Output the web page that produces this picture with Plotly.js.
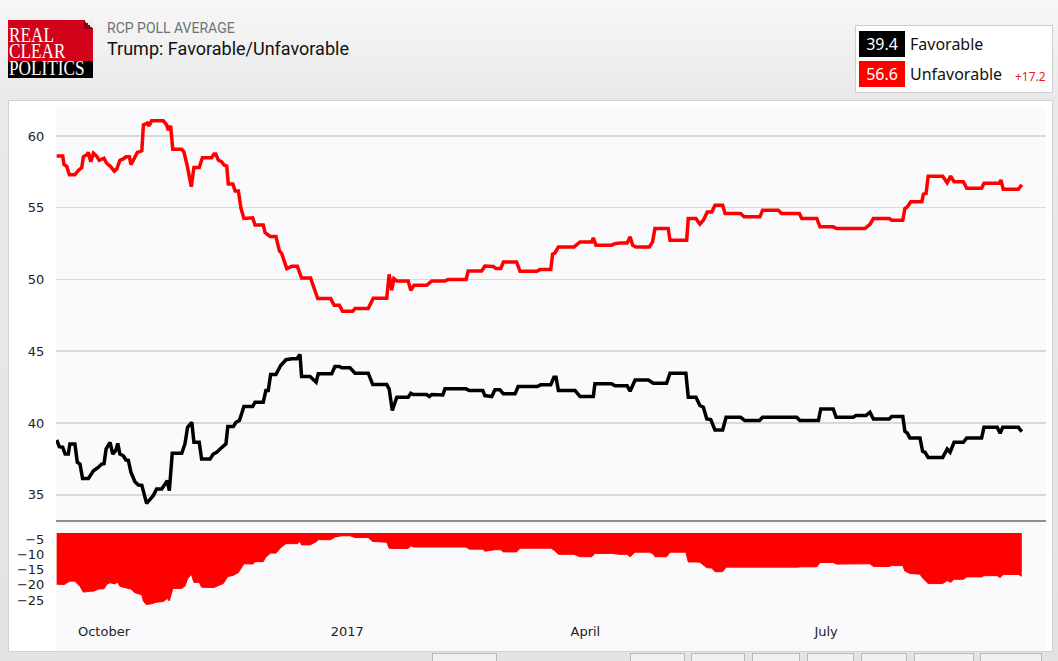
<!DOCTYPE html>
<html>
<head>
<meta charset="utf-8">
<script src="https://cdn.plot.ly/plotly-3.0.1.min.js"></script>
<style>
html,body{margin:0;padding:0;}
body{width:1058px;height:661px;overflow:hidden;position:relative;
  background:linear-gradient(to bottom,#f7f7f7 0px,#e9e9e9 100px,#e3e3e3 661px);}
.abs{position:absolute;white-space:nowrap;line-height:1;}
#logoRed{left:8px;top:20px;width:85px;height:41px;background:#d3021b;}
#logoBlack{left:8px;top:61px;width:85px;height:17px;background:#000;}
#logoFold{left:84px;top:20px;width:9px;height:9px;background:linear-gradient(to bottom left,#ececec 50%,#8e0012 50%);}
#logoText{left:9px;top:26.6px;font-family:"Liberation Serif","DejaVu Serif",serif;font-size:20px;line-height:16.6px;white-space:pre;color:#fff;transform:scaleX(0.86);transform-origin:0 0;}
#sub{left:107px;top:21px;font-family:Roboto,sans-serif;font-size:14px;color:#6e7277;}
#ttl{left:107px;top:39.5px;font-family:Roboto,sans-serif;font-size:18px;color:#111;}
#legend{left:855px;top:25px;width:198px;height:68px;background:#fff;border:1px solid #cfcfcf;box-sizing:border-box;}
.lbox{left:859px;width:46px;height:26px;}
.lnum{left:859px;width:46px;text-align:center;font-family:"Noto Sans",sans-serif;font-size:16px;color:#fff;}
.lname{left:910px;font-family:"Noto Sans",sans-serif;font-size:16px;color:#111;}
#spreadTxt{left:1015px;top:71px;font-family:"Noto Sans",sans-serif;font-size:12px;color:#f0141e;}
#panel{left:8px;top:100px;width:1045px;height:552px;background:#fff;border:1px solid #d2d2d2;box-sizing:border-box;}
#chart{left:9px;top:101px;width:1043px;height:550px;}
#bottomStrip{left:0;top:651px;width:1058px;height:10px;background:#e3e3e3;}
.btn{top:653px;height:12px;background:#f1f1f1;border:1px solid #b9b9b9;box-sizing:border-box;}
</style>
</head>
<body>
<div class="abs" id="logoRed"></div>
<div class="abs" id="logoBlack"></div>
<div class="abs" id="logoFold"></div>
<div class="abs" id="logoText">REAL
CLEAR
POLITICS</div>
<div class="abs" id="sub">RCP POLL AVERAGE</div>
<div class="abs" id="ttl">Trump: Favorable/Unfavorable</div>

<div class="abs" id="legend"></div>
<div class="abs lbox" style="top:31px;background:#000"></div>
<div class="abs lbox" style="top:61px;background:#ff0000"></div>
<div class="abs lnum" id="favNum" style="top:35.8px"></div>
<div class="abs lnum" id="unfavNum" style="top:65.8px"></div>
<div class="abs lname" id="favName" style="top:35.8px"></div>
<div class="abs lname" id="unfavName" style="top:65.8px"></div>
<div class="abs" id="spreadTxt"></div>

<div class="abs" id="bottomStrip"></div>
<div class="abs" id="panel"></div>
<div class="abs btn" style="left:432px;width:65px"></div>
<div class="abs btn" style="left:630px;width:55px"></div>
<div class="abs btn" style="left:691px;width:54px"></div>
<div class="abs btn" style="left:752px;width:48px"></div>
<div class="abs btn" style="left:807px;width:47px"></div>
<div class="abs btn" style="left:861px;width:46px"></div>
<div class="abs btn" style="left:914px;width:60px"></div>
<div class="abs btn" style="left:980px;width:62px"></div>
<div class="abs" id="chart"></div>

<script>
// Series names
const seriesNames = ['Favorable', 'Unfavorable'];

// x values: days after 2016-10-01 (RCP poll average, Sep 2016 - Sep 2017)
const favDay = [
  -17.9,-16.9,-15.6,-14.7,-13.5,-12.9,-11.0,-10.1,-9.1,-8.1,
  -5.9,-4.0,-2.2,-0.9,0,0.8,2.3,3.3,4.4,5.2,
  6.0,7.3,8.3,9.2,10.2,11.7,13.0,14.3,16.1,17.4,
  18.6,19.9,21.8,23.1,23.9,24.7,25.8,29.4,30.6,31.6,
  33.2,34.0,36.0,36.9,40.1,41.3,42.6,43.9,45.1,46.1,
  46.8,48.9,49.9,51.2,52.9,56.2,57.1,60.2,61.2,62.1,
  63.0,65.0,66.8,68.8,71.0,72.9,74.1,74.7,77.9,80.2,
  81.0,86.1,87.3,89.0,89.9,93.0,94.9,99.9,101.6,106.9,
  107.8,109.0,110.7,115.0,116.0,116.9,122.0,123.0,123.9,128.1,
  128.9,136.9,138.1,143.2,144.0,146.6,147.8,149.7,151.0,155.4,
  156.6,163.8,165.1,168.9,170.1,170.9,171.8,178.1,180.0,185.0,
  185.6,191.9,193.2,197.8,198.9,200.8,205.8,207.7,212.7,214.0,
  220.0,220.9,223.8,225.3,226.6,227.9,229.4,231.0,233.9,235.2,
  240.7,242.3,247.8,249.0,261.9,263.1,270.1,271.0,275.7,276.8,
  283.3,284.3,288.1,289.6,290.9,296.9,297.8,302.0,302.8,303.7,
  304.7,308.5,309.5,310.4,311.6,317.1,318.8,319.9,321.4,324.9,
  326.2,331.8,332.7,337.7,338.8,339.8,345.7,347.0
];
const favValue = [
  38.82,38.35,38.3,37.84,37.84,38.54,38.54,37.26,37.14,36.14,
  36.14,36.67,36.9,37.14,37.16,38.19,38.65,37.84,38.07,38.58,
  37.84,37.72,37.42,37.4,36.56,35.91,35.68,35.66,34.4,34.7,
  34.93,35.4,35.4,35.75,35.98,35.28,37.89,37.89,38.54,39.7,
  40.05,38.65,38.65,37.49,37.49,37.84,37.96,38.19,38.42,38.54,
  39.75,39.75,40.05,40.17,41.15,41.15,41.45,41.45,42.26,42.26,
  43.38,43.38,44.01,44.41,44.47,44.47,44.78,43.24,43.24,42.84,
  43.43,43.43,43.94,43.94,43.85,43.85,43.47,43.47,42.68,42.68,
  42.38,40.87,41.8,41.8,42.07,41.98,41.98,41.84,41.98,41.95,
  42.38,42.38,42.26,42.26,41.91,41.84,42.31,42.31,42.03,42.03,
  42.54,42.54,42.66,42.66,43.19,43.19,42.26,42.26,41.84,41.84,
  42.73,42.73,42.59,42.59,42.21,43.0,43.0,42.77,42.77,43.47,
  43.47,41.8,41.8,41.22,41.1,40.28,40.24,39.52,39.52,40.4,
  40.4,40.17,40.17,40.4,40.4,40.17,40.17,40.98,40.98,40.4,
  40.4,40.52,40.52,40.75,40.28,40.28,40.45,40.45,39.42,39.3,
  38.96,38.96,38.03,37.96,37.6,37.6,38.19,37.96,38.65,38.65,
  38.96,38.96,39.7,39.7,39.28,39.7,39.7,39.4
];

const unfavDay = [
  -17.9,-15.6,-15.1,-14.1,-13.1,-11.0,-9.7,-8.4,-7.8,-6.5,
  -5.9,-5.0,-4.0,-2.8,-1.8,0,1.0,2.3,3.9,4.8,
  6.0,7.3,8.3,9.6,10.2,11.7,12.6,14.3,14.9,16.4,
  17.0,18.0,22.4,23.7,24.3,25.2,26.0,29.4,30.2,31.5,
  33.0,34.0,36.0,37.2,40.7,41.6,42.3,43.2,44.5,45.4,
  46.4,47.0,48.7,49.6,50.8,51.8,52.9,56.2,57.1,60.2,
  60.9,62.8,65.0,66.3,67.2,69.1,71.0,73.1,74.7,78.1,
  79.1,80.8,85.7,87.0,89.0,90.2,94.0,94.9,99.9,101.8,
  106.9,107.8,108.8,109.6,110.7,115.0,116.0,117.2,122.0,123.9,
  128.9,130.2,136.9,137.7,142.8,144.0,147.2,148.2,150.0,151.0,
  156.0,157.3,163.6,164.8,168.9,169.6,170.5,171.8,177.7,180.0,
  184.4,185.0,186.0,191.9,193.2,195.1,197.8,198.9,199.9,201.1,
  206.2,207.4,208.3,213.3,214.0,220.3,220.9,223.8,225.3,226.6,
  228.1,229.8,231.0,233.9,234.8,240.7,242.0,248.0,249.0,254.9,
  256.2,262.9,263.8,269.5,270.7,275.7,277.0,287.7,289.6,290.9,
  296.9,297.8,302.0,302.8,303.7,305.0,309.2,309.8,310.8,311.6,
  317.1,318.8,320.1,321.4,324.9,326.2,331.8,332.7,338.5,339.1,
  340.0,345.7,347.0
];
const unfavValue = [
  58.6,58.6,58.0,57.9,57.3,57.3,57.6,57.8,58.55,58.7,
  58.85,58.2,58.8,58.6,58.3,58.45,58.1,57.9,57.55,57.7,
  58.3,58.4,58.55,58.55,58.0,58.55,58.85,58.97,60.77,60.9,
  60.7,61.07,61.07,60.77,60.4,60.7,59.07,59.07,58.9,57.9,
  56.46,57.8,57.8,58.49,58.49,58.74,58.74,58.32,58.2,57.97,
  57.9,56.65,56.65,56.16,56.16,54.95,54.25,54.3,53.8,53.8,
  53.27,53.0,53.0,52.0,51.8,50.76,50.92,50.92,50.1,50.1,
  49.6,48.67,48.67,48.2,48.2,47.78,47.78,47.97,47.97,48.7,
  48.7,50.36,49.25,50.06,49.9,49.9,49.25,49.6,49.6,49.9,
  49.9,50.0,50.0,50.6,50.6,50.94,50.9,50.76,50.76,51.22,
  51.22,50.57,50.57,50.69,50.69,51.76,51.85,52.27,52.27,52.62,
  52.62,52.9,52.39,52.39,52.5,52.55,52.55,52.97,52.39,52.27,
  52.27,52.62,53.55,53.55,52.74,52.74,54.25,54.25,53.85,54.13,
  54.71,54.71,55.18,55.18,54.6,54.6,54.37,54.37,54.83,54.83,
  54.6,54.6,54.25,54.25,53.67,53.67,53.55,53.55,53.85,54.25,
  54.25,54.13,54.13,54.95,55.06,55.41,55.41,55.95,56.0,57.2,
  57.2,56.74,57.2,56.81,56.81,56.35,56.35,56.7,56.7,56.93,
  56.28,56.28,56.6
];

// Spread (Favorable minus Unfavorable)
const spreadDay = [
  -17.9,-15,-13,-11,-9,-7.8,-5,-4,-2,0,
  1,2.3,3.9,5.2,6,8.3,10.2,11.7,14.3,14.9,
  16.1,18,19.9,22.4,23.9,24.7,25.8,26,29.4,30.6,
  31.6,33,34,36,36.9,40.1,41.6,43.9,45.1,46.8,
  48.9,50.8,51.8,52.9,56.2,57.1,60.2,61.2,63,65,
  66.8,68.8,71,73.1,74.1,74.7,77.9,80.2,81,85.7,
  87.3,89.9,93,94.9,99.9,101.6,106.9,107.8,108.8,110.7,
  115,116,117.2,122,128.9,136.9,138.1,143.2,144,147.8,
  150,151,156,157.3,163.6,165.1,168.9,170.1,171.8,177.7,
  180,184.4,185.6,191.9,195.1,197.8,198.9,200.8,206.2,207.7,
  208.3,212.7,214,220,220.9,223.8,225.3,227.9,229.8,231,
  233.9,235.2,240.7,242.3,248,249,254.9,256.2,261.9,263.8,
  269.5,270.7,275.7,277,283.3,284.3,288.1,289.6,290.9,296.9,
  297.8,302,302.8,304.7,308.5,309.5,311.6,317.1,318.8,320.1,
  321.4,324.9,326.2,331.8,332.7,337.7,338.8,340,345.7,347
];
const spreadValue = [
  -19.8,-19.9,-18.8,-18.8,-20.6,-22.4,-22.1,-22.1,-21.4,-21.3,
  -19.9,-19.3,-19.7,-19.2,-20.5,-21.1,-21.4,-22.6,-23.3,-25.4,
  -26.5,-26.2,-25.7,-25.5,-24.5,-25.3,-21.6,-21.2,-21.2,-20.4,
  -18.1,-16.5,-19.2,-19.2,-20.8,-21.0,-20.9,-20.0,-19.6,-17.3,
  -16.9,-16.0,-14.5,-13.1,-13.2,-12.4,-12.4,-10.9,-9.6,-9.6,
  -7.8,-6.5,-6.5,-6.5,-5.7,-6.9,-6.9,-5.9,-5.2,-5.2,
  -4.3,-3.9,-3.9,-4.5,-4.5,-5.8,-6.0,-8.0,-8.1,-8.1,
  -8.1,-7.2,-7.6,-7.6,-7.5,-7.6,-8.3,-8.3,-9.0,-8.5,
  -8.5,-9.2,-9.2,-8.0,-8.0,-8.0,-8.0,-8.6,-10.0,-10.0,
  -10.8,-10.8,-9.7,-9.7,-10.0,-10.0,-10.8,-9.3,-9.3,-9.9,
  -10.8,-10.8,-9.3,-9.3,-12.5,-12.5,-12.6,-14.4,-14.5,-15.7,
  -15.7,-14.2,-14.2,-14.2,-14.2,-14.4,-14.4,-14.2,-14.2,-14.1,
  -14.1,-12.7,-12.7,-13.2,-13.2,-13.0,-13.1,-13.1,-14.0,-14.0,
  -13.7,-13.7,-15.5,-16.3,-16.5,-17.8,-19.6,-19.6,-18.6,-19.2,
  -18.2,-18.2,-17.4,-17.4,-17.0,-17.0,-17.6,-16.6,-16.6,-17.2
];

// Tick labels
const xTickDates = ['2016-10-01', '2017-01-01', '2017-04-01', '2017-07-01'];
const xTickLabels = ['October', '2017', 'April', 'July'];
const mainTicks = [35, 40, 45, 50, 55, 60];
const spreadTicks = [-5, -10, -15, -20, -25];
const spreadGrid = [-7.3, -14.2, -21.1];

function dayToDate(d) {
  const ms = Date.UTC(2016, 9, 1) + d * 86400000;
  return new Date(ms).toISOString().slice(0, 19).replace('T', ' ');
}

// Legend texts from the latest values
const favLast = favValue[favValue.length - 1];
const unfavLast = unfavValue[unfavValue.length - 1];
document.getElementById('favNum').textContent = favLast.toFixed(1);
document.getElementById('unfavNum').textContent = unfavLast.toFixed(1);
document.getElementById('favName').textContent = seriesNames[0];
document.getElementById('unfavName').textContent = seriesNames[1];
document.getElementById('spreadTxt').textContent = '+' + (unfavLast - favLast).toFixed(1);

const xRange = ['2016-09-12 20:24', '2017-09-22 03:36'];
const tickFont = {family: 'DejaVu Sans, Verdana, sans-serif', size: 13, color: '#222'};

const traces = [
  {x: unfavDay.map(dayToDate), y: unfavValue, name: seriesNames[1], type: 'scatter', mode: 'lines',
   line: {color: '#ff0000', width: 3.5}, xaxis: 'x', yaxis: 'y'},
  {x: favDay.map(dayToDate), y: favValue, name: seriesNames[0], type: 'scatter', mode: 'lines',
   line: {color: '#000000', width: 3.5}, xaxis: 'x', yaxis: 'y'},
  {x: spreadDay.map(dayToDate), y: spreadValue, name: 'Spread', type: 'scatter', mode: 'lines',
   fill: 'tozeroy', fillcolor: '#ff0000', line: {color: '#ff0000', width: 1}, xaxis: 'x2', yaxis: 'y2'}
];

const layout = {
  width: 1043, height: 550,
  margin: {l: 47, r: 6, t: 7, b: 40, pad: 0},
  paper_bgcolor: '#ffffff', plot_bgcolor: '#fafafc',
  showlegend: false,
  font: tickFont,
  xaxis: {domain: [0, 1], anchor: 'y', type: 'date', range: xRange, showgrid: false,
    showticklabels: false, showline: true, linecolor: '#8f8f8f', linewidth: 2, zeroline: false, ticks: ''},
  xaxis2: {domain: [0, 1], anchor: 'y2', type: 'date', range: xRange, matches: 'x', showgrid: false,
    tickmode: 'array', tickvals: xTickDates, ticktext: xTickLabels, ticks: 'outside', ticklen: 8,
    tickcolor: 'rgba(0,0,0,0)', showline: false, zeroline: false, tickfont: tickFont},
  yaxis: {domain: [0.1809, 1], anchor: 'x', range: [33.24, 61.95], tickmode: 'array', tickvals: mainTicks,
    gridcolor: '#d9d9d9', gridwidth: 1.5, ticks: 'outside', ticklen: 8, tickcolor: 'rgba(0,0,0,0)',
    zeroline: false, showline: false, tickfont: tickFont},
  yaxis2: {domain: [0, 0.15507], anchor: 'x2', range: [-28.6, -3.0], tickmode: 'array', tickvals: spreadTicks,
    showgrid: false, ticks: 'outside', ticklen: 8, tickcolor: 'rgba(0,0,0,0)', zeroline: false,
    showline: false, tickfont: tickFont},
  yaxis3: {domain: [0, 0.15507], anchor: 'x2', overlaying: 'y2', range: [-28.6, -3.0], tickmode: 'array',
    tickvals: spreadGrid, showticklabels: false, showgrid: true, gridcolor: '#d9d9d9', gridwidth: 1.5,
    zeroline: false, showline: false, ticks: ''},
  shapes: [
    {type: 'rect', xref: 'paper', yref: 'paper', x0: 0, x1: 1, y0: -0.1, y1: 1,
     fillcolor: '#fafafc', line: {width: 0}, layer: 'below'}
  ]
};

Plotly.newPlot('chart', traces, layout, {staticPlot: true, displayModeBar: false});
</script>
</body>
</html>
